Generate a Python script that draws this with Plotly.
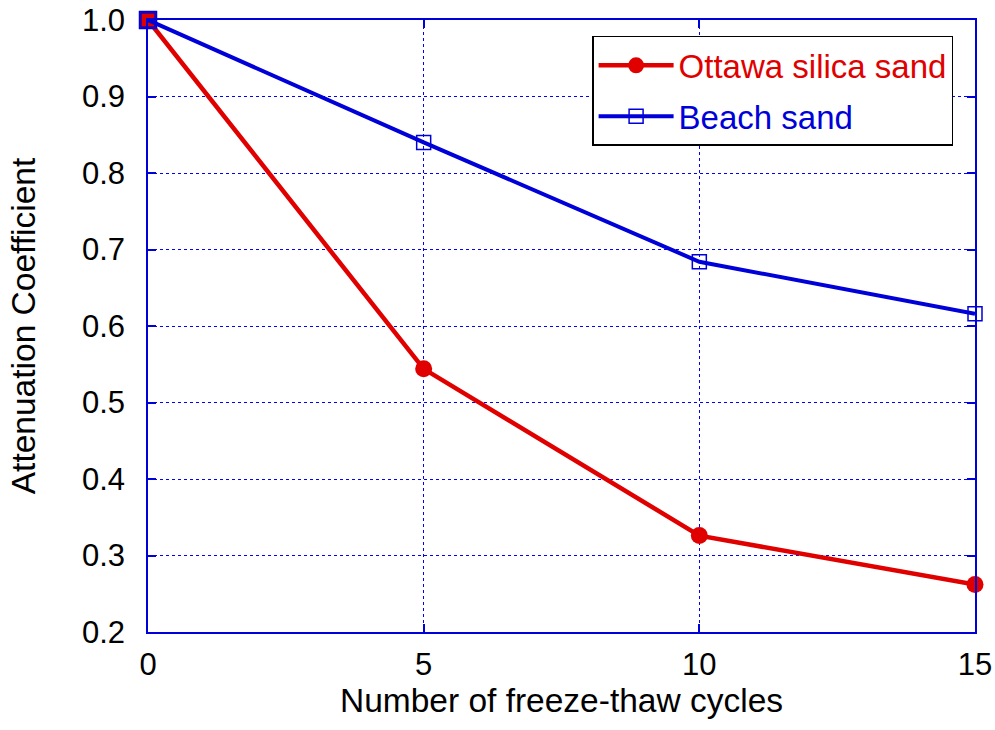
import plotly.graph_objects as go

cycles = [0, 5, 10, 15]
ottawa = [1.0, 0.544, 0.326, 0.262]
beach = [1.0, 0.840, 0.684, 0.616]
x_ticks = [0, 5, 10, 15]
y_ticks = [0.2, 0.3, 0.4, 0.5, 0.6, 0.7, 0.8, 0.9, 1.0]

RED = "#e00000"
BLUE = "#0000d8"
GRID = "#0000ff"
FONT = "Liberation Sans, Arial, sans-serif"

fig = go.Figure()
fig.add_trace(go.Scatter(
    x=cycles, y=ottawa, mode="lines+markers",
    name=f"<span style='color:{RED}'>Ottawa silica sand</span>",
    legendgroup="a",
    line=dict(color=RED, width=4.5),
    marker=dict(color=RED, size=17, symbol="circle"),
    cliponaxis=False,
))
# first Ottawa point drawn as a filled square (as in the reference)
fig.add_trace(go.Scatter(
    x=cycles[:1], y=ottawa[:1], mode="markers", showlegend=False,
    marker=dict(color=RED, size=17, symbol="square", line=dict(width=1.5, color=BLUE)),
    cliponaxis=False,
))
fig.add_trace(go.Scatter(
    x=cycles, y=beach, mode="lines+markers",
    name=f"<span style='color:{BLUE}'>Beach sand</span>",
    legendgroup="b",
    line=dict(color=BLUE, width=4),
    marker=dict(color=BLUE, size=14, symbol="square-open", line=dict(width=1.5, color=BLUE)),
    cliponaxis=False,
))

axis_common = dict(
    showline=True, linecolor=BLUE, linewidth=1.5, mirror="ticks",
    ticks="inside", ticklen=8, tickcolor=BLUE, tickwidth=1.5,
    showgrid=True, gridcolor=GRID, griddash="3px,3px", gridwidth=1,
    zeroline=False, automargin=False, ticklabeloverflow="allow",
    tickfont=dict(family=FONT, size=31, color="black"),
    title_font=dict(family=FONT, size=33.5, color="black"),
)

fig.update_xaxes(range=[0, 15], tickvals=x_ticks, ticktext=[str(v) for v in x_ticks],
                 ticklabelstandoff=4,
                 title_text="Number of freeze-thaw cycles", title_standoff=0, **axis_common)
fig.update_yaxes(range=[0.2, 1.0], tickvals=y_ticks, ticktext=[f"{v:.1f}" for v in y_ticks],
                 ticklabelstandoff=15,
                 title_text="Attenuation Coefficient", title_standoff=36, **axis_common)

fig.update_layout(
    width=995, height=730,
    margin=dict(l=148, r=20, t=20, b=98),
    plot_bgcolor="white", paper_bgcolor="white",
    font=dict(family=FONT, size=33),
    legend=dict(x=0.537, y=0.974, xanchor="left", yanchor="top",
                bordercolor="black", borderwidth=1.5, bgcolor="white",
                font=dict(family=FONT, size=33), traceorder="grouped",
                tracegroupgap=5, itemwidth=75),
    showlegend=True,
)

fig.write_html("out.html", config={"displayModeBar": False},
               post_script="document.body.style.margin='0';")
